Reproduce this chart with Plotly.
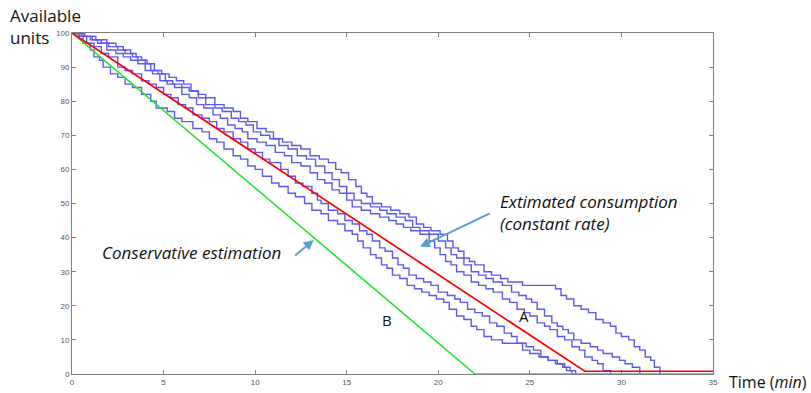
import plotly.graph_objects as go

# ---- data ----
s1_t = [0, 0.3, 0.6, 1.0, 1.2, 1.5, 1.7, 2.1, 2.5, 2.9, 3.3, 3.8, 4.3, 4.6, 5.2, 5.6, 6.0, 6.6, 7.1, 7.5, 7.9, 8.3, 8.8, 9.2, 9.6, 10.0,
        10.4, 10.9, 11.3, 11.8, 12.2, 12.7, 13.1, 13.6, 14.0, 14.5, 14.9, 15.3, 15.6, 15.9, 16.3, 16.6, 16.9, 17.2, 17.5, 17.9,
        18.3, 18.7, 19.1, 19.5, 19.9, 20.3, 20.6, 21.0, 21.4, 21.8, 22.1, 22.5, 22.9, 23.5, 24.6, 25.0, 25.5, 26.0, 26.4, 26.8, 27.0, 27.3]
s1_v = [100, 99, 97, 95, 93, 92, 90, 88, 87, 85, 84, 82, 80, 78, 77, 75, 74, 72, 71, 69, 68, 66, 64, 63, 61, 60,
        58, 56, 55, 53, 52, 50, 48, 47, 45, 44, 42, 41, 39, 37, 35, 34, 32, 31, 29, 28,
        26, 25, 24, 23, 22, 21, 19, 17, 16, 14, 13, 11, 10, 9, 7, 6, 5, 4, 3, 2, 1, 0]

s2_t = [0, 0.4, 0.8, 1.2, 1.6, 2.0, 2.5, 2.9, 3.3, 3.8, 4.2, 4.6, 5.0, 5.4, 5.8, 6.2, 6.6, 7.1, 7.5, 7.9, 8.3, 8.8, 9.2, 9.6,
        10.0, 10.4, 10.8, 11.4, 11.8, 12.2, 12.6, 13.1, 13.4, 13.6, 14.0, 14.5, 14.9, 15.3, 15.7, 16.1, 16.4, 16.8, 17.1, 17.5,
        17.8, 18.1, 18.4, 18.8, 19.2, 19.6, 20.0, 20.5, 20.9, 21.2, 21.6, 22.0, 22.4, 22.8, 23.2, 23.6, 24.0, 24.3, 24.8, 25.2,
        25.6, 26.0, 26.5, 26.9, 27.2, 27.5]
s2_v = [100, 99, 97, 96, 94, 93, 90, 89, 88, 86, 85, 84, 82, 81, 79, 78, 76, 75, 74, 72, 71, 69, 68, 66,
        65, 63, 62, 60, 58, 56, 55, 53, 51, 50, 48, 47, 45, 44, 42, 41, 39, 37, 36, 34,
        32, 31, 29, 28, 27, 26, 24, 23, 22, 21, 19, 18, 17, 15, 14, 12, 11, 9, 8, 7,
        5, 4, 3, 2, 1, 0]

s3_t = [0, 0.5, 1.0, 1.4, 1.9, 2.4, 2.8, 3.2, 3.6, 4.0, 4.4, 4.8, 5.2, 5.6, 6.0, 6.4, 6.8, 7.2, 7.7, 8.1, 8.5, 8.9, 9.3, 9.6,
        10.1, 10.6, 11.1, 11.6, 12.0, 12.5, 13.0, 13.4, 13.8, 14.2, 14.6, 15.0, 15.3, 15.8, 16.3, 16.8, 17.3, 17.7, 18.1, 18.5,
        19.0, 19.5, 19.8, 20.1, 20.4, 20.7, 21.0, 21.4, 21.8, 22.2, 22.6, 23.0, 23.5, 23.9, 24.3, 24.7, 25.0, 25.4, 25.8, 26.1,
        26.5, 26.9, 27.3, 27.7, 28.0, 28.4, 28.7, 29.0, 29.4]
s3_v = [100, 99, 98, 97, 95, 94, 93, 92, 91, 89, 88, 86, 85, 84, 82, 81, 79, 78, 76, 75, 73, 72, 71, 69,
        68, 67, 65, 64, 62, 61, 59, 57, 56, 54, 53, 51, 49, 48, 47, 46, 45, 44, 43, 42,
        41, 39, 37, 35, 33, 32, 30, 29, 27, 26, 25, 24, 22, 21, 19, 18, 17, 15, 14, 13,
        11, 10, 8, 7, 5, 4, 3, 1, 0]

s4_t = [0, 0.6, 1.1, 1.6, 2.0, 2.5, 2.9, 3.3, 3.6, 4.0, 4.3, 4.7, 5.1, 5.5, 6.0, 6.4, 6.9, 7.3, 7.8, 8.2, 8.7, 9.1, 9.5, 9.9,
        10.3, 10.8, 11.3, 11.8, 12.3, 12.8, 13.3, 13.8, 14.2, 14.6, 15.0, 15.4, 15.8, 16.3, 16.8, 17.2, 17.7, 18.2, 18.6, 19.0,
        19.5, 20.0, 20.4, 20.7, 21.0, 21.4, 21.8, 22.2, 22.6, 23.0, 23.5, 24.0, 24.4, 24.8, 25.1, 25.4, 25.8, 26.2, 26.5, 26.8,
        27.1, 27.4, 27.8, 28.3, 28.7, 29.0, 29.5, 29.9, 30.2, 30.6, 31.0]
s4_v = [100, 99, 98, 97, 96, 95, 94, 93, 92, 91, 89, 88, 86, 85, 84, 83, 81, 79, 78, 77, 75, 74, 73, 71,
        70, 69, 67, 66, 64, 63, 61, 59, 57, 55, 53, 51, 50, 49, 48, 47, 46, 45, 43, 42,
        41, 39, 37, 35, 34, 32, 30, 29, 28, 27, 26, 24, 23, 22, 21, 19, 17, 15, 14, 13,
        12, 10, 9, 8, 7, 6, 5, 4, 3, 2, 0]

s5_t = [0, 0.7, 1.3, 1.9, 2.4, 2.8, 3.2, 3.5, 3.8, 4.1, 4.5, 4.9, 5.3, 5.7, 6.1, 6.5, 6.9, 7.3, 7.8, 8.3, 8.8, 9.2, 9.6,
        10.1, 10.6, 11.0, 11.5, 12.0, 12.5, 13.0, 13.5, 14.0, 14.4, 14.7, 15.1, 15.5, 15.8, 16.1, 16.4, 16.9, 17.4, 17.9, 18.4,
        18.8, 19.2, 19.6, 20.1, 20.5, 20.8, 21.1, 21.4, 21.7, 22.0, 22.5, 22.9, 23.4, 23.8, 24.6, 26.4, 26.7, 27.0, 27.4, 27.8,
        28.2, 28.6, 29.0, 29.4, 29.7, 30.0, 30.4, 30.7, 31.0, 31.3, 31.6, 31.8, 32.1]
s5_v = [100, 99, 98, 97, 96, 95, 94, 93, 92, 91, 89, 88, 87, 86, 85, 83, 82, 81, 79, 78, 77, 75, 74,
        72, 71, 69, 68, 67, 66, 64, 63, 62, 60, 59, 57, 55, 53, 52, 50, 49, 48, 47, 46,
        44, 43, 42, 41, 39, 37, 36, 34, 33, 32, 30, 29, 28, 27, 26, 25, 23, 22, 20, 19,
        18, 16, 15, 14, 12, 11, 10, 8, 7, 5, 4, 2, 0]

red_t = [0, 28, 35]
red_v = [100, 0.8, 0.8]
green_t = [0, 22, 35]
green_v = [100, 0, 0]

x_ticks = [0, 5, 10, 15, 20, 25, 30, 35]
y_ticks = [0, 10, 20, 30, 40, 50, 60, 70, 80, 90, 100]

series = [(s1_t, s1_v), (s2_t, s2_v), (s3_t, s3_v), (s4_t, s4_v), (s5_t, s5_v)]

# ---- figure ----
fig = go.Figure()
for t, v in series:
    fig.add_trace(go.Scatter(x=t, y=v, mode="lines", line=dict(color="rgb(90,90,240)", width=1.4, shape="hv"),
                             showlegend=False, hoverinfo="skip"))
fig.add_trace(go.Scatter(x=green_t, y=green_v, mode="lines", line=dict(color="rgb(40,225,40)", width=1.6),
                         showlegend=False))
fig.add_trace(go.Scatter(x=red_t, y=red_v, mode="lines", line=dict(color="rgb(255,0,0)", width=1.7),
                         showlegend=False))

axis_common = dict(showgrid=False, zeroline=False, showline=True, linecolor="#7f7f7f", linewidth=1,
                   mirror="ticks", ticks="inside", ticklen=4, tickcolor="#7f7f7f",
                   tickfont=dict(family="Liberation Sans Narrow, Liberation Sans, Arial", size=8, color="#555555"),
                   automargin=False, layer="below traces")

fig.update_xaxes(range=[0, 35], tickvals=x_ticks, ticktext=[str(v) for v in x_ticks], **axis_common)
fig.update_yaxes(range=[0, 100], tickvals=y_ticks, ticktext=[str(v) for v in y_ticks], **axis_common)

txt_font = dict(family="Open Sans, Noto Sans, sans-serif", size=17, color="#111111")
lbl_font = dict(family="Open Sans, Noto Sans, sans-serif", size=15, color="#111111")
arrow_col = "#5b9bd5"

annotations = [
    dict(text="Available<br>units", xref="paper", yref="paper", x=-0.1, y=1.018, xanchor="left", yanchor="middle",
         align="left", showarrow=False, font=dict(family="Open Sans, Noto Sans, sans-serif", size=17, color="#111111")),
    dict(text="Time (<i>min</i>)", xref="paper", yref="paper", x=1.022, y=-0.024, xanchor="left", yanchor="middle",
         showarrow=False, font=dict(family="Open Sans, Noto Sans, sans-serif", size=16, color="#111111")),
    dict(text="<i>Conservative estimation</i>", x=6.5, y=35.5, xanchor="center", yanchor="middle",
         showarrow=False, font=txt_font),
    dict(text="<i>Extimated consumption</i>", x=23.25, y=50.5, xanchor="left", yanchor="middle",
         showarrow=False, font=txt_font),
    dict(text="<i>(constant rate)</i>", x=23.25, y=44.0, xanchor="left", yanchor="middle",
         showarrow=False, font=txt_font),
    dict(text="B", x=17.2, y=15.8, showarrow=False, font=lbl_font),
    dict(text="A", x=24.7, y=17.0, showarrow=False, font=lbl_font),
    dict(text="", x=13.2, y=39.3, ax=12.1, ay=34.4, axref="x", ayref="y", showarrow=True,
         arrowhead=2, arrowsize=1, arrowwidth=2, arrowcolor=arrow_col),
    dict(text="", x=19.0, y=37.3, ax=22.9, ay=47.3, axref="x", ayref="y", showarrow=True,
         arrowhead=2, arrowsize=1, arrowwidth=2, arrowcolor=arrow_col),
]

fig.update_layout(
    width=811, height=393,
    margin=dict(l=72, r=98, t=33, b=19, autoexpand=False),
    plot_bgcolor="white", paper_bgcolor="white",
    annotations=annotations,
    showlegend=False,
)

fig.write_html("out.html", config={"displayModeBar": False},
               post_script="document.body.style.margin='0';document.body.style.overflow='hidden';")
